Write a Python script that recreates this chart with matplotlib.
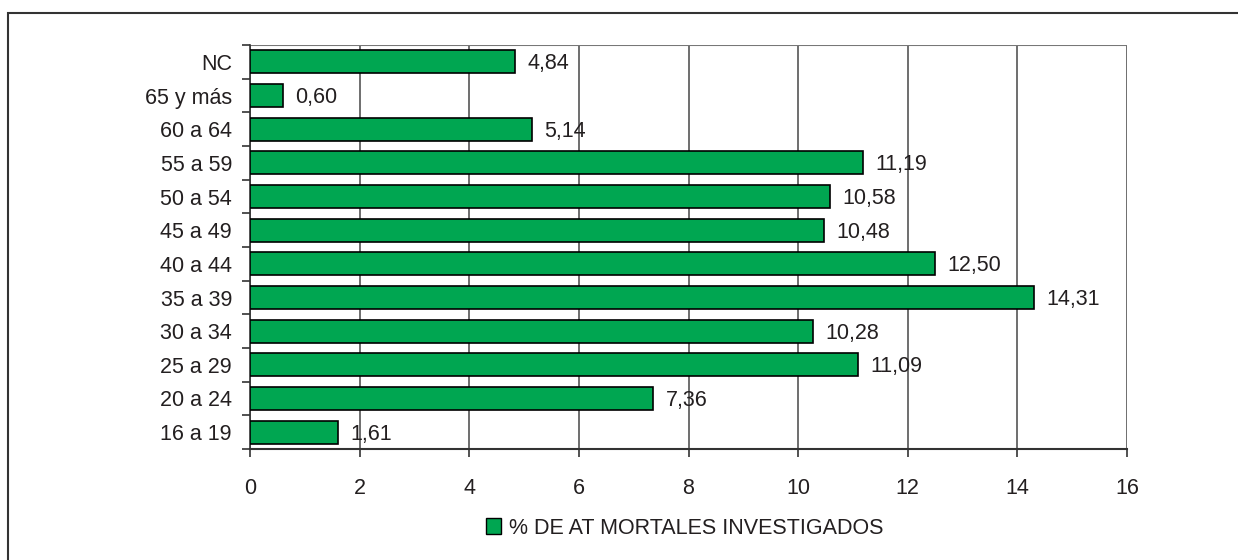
import matplotlib.pyplot as plt
import numpy as np
from matplotlib.patches import Rectangle

plt.rcParams['font.family'] = ['Liberation Sans', 'DejaVu Sans']

# data (bottom to top)
groups = ['16 a 19', '20 a 24', '25 a 29', '30 a 34', '35 a 39', '40 a 44',
          '45 a 49', '50 a 54', '55 a 59', '60 a 64', '65 y más', 'NC']
values = [1.61, 7.36, 11.09, 10.28, 14.31, 12.50, 10.48, 10.58, 11.19, 5.14, 0.60, 4.84]
xticks = [0, 2, 4, 6, 8, 10, 12, 14, 16]
series_name = '% DE AT MORTALES INVESTIGADOS'

green = '#00a651'
txt = '#231f20'
fs = 15.5

fig = plt.figure(figsize=(12.38, 5.6), dpi=100)

# outer frame (only top and left visible in the reference)
fig.patches.append(Rectangle((8/1238, -0.1), 1.2, 1 - 13/560 + 0.1, transform=fig.transFigure,
                             fill=False, edgecolor='#333333', linewidth=1.5))

ax = fig.add_axes([250/1238, 1 - 449/560, 877/1238, 404/560])
y = np.arange(len(groups))
ax.barh(y, values, height=0.68, color=green, edgecolor='black', linewidth=1.2, zorder=3)

for yi, v in zip(y, values):
    ax.text(v + 0.22, yi - 0.06, f'{v:.2f}'.replace('.', ','), va='center', ha='left',
            fontsize=fs, color=txt, zorder=4)

ax.set_xlim(0, 16)
ax.set_ylim(-0.5, len(groups) - 0.5)
ax.set_xticks(xticks)
ax.set_xticklabels([str(t) for t in xticks], fontsize=fs, color=txt)
ax.tick_params(axis='x', direction='out', length=6, width=1.2, pad=15, color='#333333')

ax.set_yticks(y)
ax.set_yticklabels(groups, fontsize=fs, color=txt)
ax.tick_params(axis='y', which='major', length=0, pad=13)
ax.set_yticks(np.arange(-0.5, len(groups), 1.0), minor=True)
ax.tick_params(axis='y', which='minor', direction='out', length=6, width=1.2, color='#333333')

ax.grid(axis='x', color='#555555', linewidth=1.2, zorder=0)
for s in ['top', 'right']:
    ax.spines[s].set_visible(False)
ax.spines['left'].set_color('#333333')
ax.spines['left'].set_linewidth(1.2)
ax.spines['bottom'].set_color('#333333')
ax.spines['bottom'].set_linewidth(1.5)
ax.axhline(len(groups) - 0.5, color='#777777', linewidth=1.5, zorder=2)

# legend
handle = Rectangle((0, 0), 1, 1, facecolor=green, edgecolor='black', linewidth=1.0)
fig.legend([handle], [series_name], loc='center', bbox_to_anchor=(0.553, 1 - 528/560),
           frameon=False, fontsize=fs, handlelength=0.7, handleheight=0.7,
           handletextpad=0.35, labelcolor=txt)

fig.savefig('out.png', dpi=100)
